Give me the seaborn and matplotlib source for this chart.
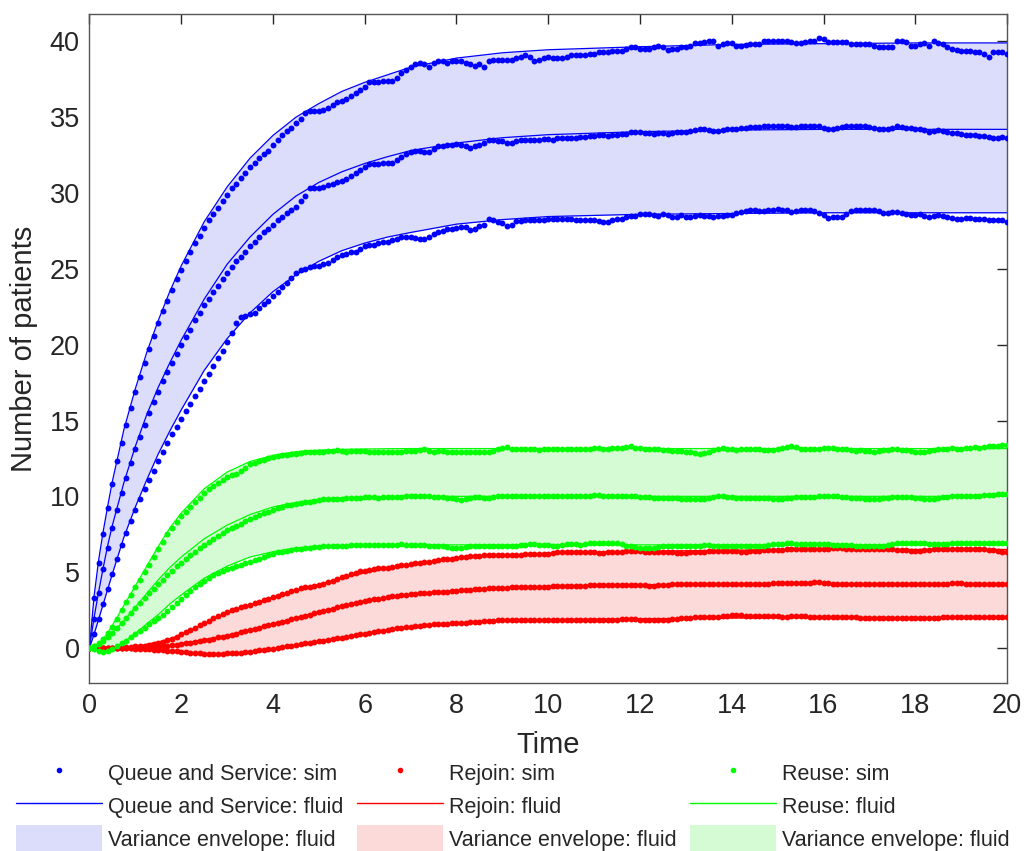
import numpy as np
import pandas as pd
import matplotlib
matplotlib.use("Agg")
import matplotlib.pyplot as plt
from matplotlib.lines import Line2D
from matplotlib.patches import Patch
import seaborn as sns

# ---------------------------------------------------------------- data
# simulation time grid (step 0.1) and fluid-model knot times
t_sim = np.round(np.arange(0, 201) * 0.1, 1)
t_fluid = [0, 0.1, 0.2, 0.3, 0.4, 0.5, 0.75, 1.0, 1.25, 1.5, 1.75, 2.0, 2.5, 3.0, 3.5,
           4.0, 4.5, 5.0, 5.5, 6.0, 6.5, 7.0, 8.0, 9.0, 10.0, 12.0, 14.0, 16.0, 18.0, 20.0]

# Queue and Service -- fluid mean and variance envelope
queue_fluid_mean = [0, 2.0, 3.7, 5.3, 6.8, 8.1, 10.9, 13.3, 15.4, 17.2, 18.8, 20.3, 23.0, 25.3, 27.1,
                    28.6, 29.8, 30.7, 31.4, 31.95, 32.4, 32.8, 33.3, 33.65, 33.85, 34.05, 34.15, 34.2, 34.2, 34.2]
queue_fluid_upper = [0, 3.4, 5.8, 7.7, 9.4, 11.0, 14.4, 17.1, 19.5, 21.6, 23.5, 25.2, 28.1, 30.4, 32.3,
                     33.8, 35.0, 35.9, 36.7, 37.3, 37.8, 38.3, 38.9, 39.25, 39.45, 39.65, 39.8, 39.85, 39.9, 39.9]
queue_fluid_lower = [0, 0.9, 1.9, 2.9, 3.9, 4.9, 7.3, 9.3, 11.1, 12.8, 14.3, 15.7, 18.3, 20.4, 22.1,
                     23.5, 24.6, 25.5, 26.2, 26.7, 27.1, 27.4, 27.95, 28.25, 28.45, 28.6, 28.65, 28.7, 28.7, 28.7]

# Rejoin -- fluid mean and variance envelope
rejoin_fluid_mean = [0, 0, 0, 0, 0, 0, 0, 0.02, 0.05, 0.1, 0.18, 0.3, 0.55, 0.85, 1.2,
                     1.6, 2.0, 2.38, 2.75, 3.05, 3.32, 3.55, 3.8, 3.97, 4.07, 4.17, 4.22, 4.24, 4.25, 4.25]
rejoin_fluid_upper = [0, 0, 0, 0, 0, 0, 0.03, 0.1, 0.25, 0.4, 0.6, 0.9, 1.6, 2.3, 2.85,
                      3.35, 3.8, 4.2, 4.6, 4.95, 5.25, 5.5, 5.9, 6.1, 6.25, 6.38, 6.45, 6.5, 6.5, 6.5]
rejoin_fluid_lower = [0, 0, 0, 0, 0, 0, -0.03, -0.07, -0.12, -0.18, -0.25, -0.32, -0.43, -0.46, -0.3,
                      -0.05, 0.2, 0.45, 0.7, 0.95, 1.2, 1.4, 1.65, 1.8, 1.87, 1.93, 1.97, 2.0, 2.0, 2.0]

# Reuse -- fluid mean and variance envelope
reuse_fluid_mean = [0, 0.1, 0.25, 0.45, 0.7, 1.0, 1.8, 2.7, 3.6, 4.5, 5.3, 6.0, 7.2, 8.1, 8.8,
                    9.3, 9.6, 9.8, 9.9, 9.95, 9.98, 10.0, 10.0, 10.0, 10.0, 10.0, 10.0, 10.0, 10.0, 10.0]
reuse_fluid_upper = [0, 0.1, 0.3, 0.6, 1.0, 1.5, 2.8, 4.1, 5.4, 6.7, 7.9, 8.9, 10.5, 11.6, 12.3,
                     12.7, 12.95, 13.05, 13.1, 13.12, 13.14, 13.15, 13.15, 13.15, 13.15, 13.15, 13.15, 13.15, 13.15, 13.15]
reuse_fluid_lower = [0, -0.1, -0.2, -0.25, -0.2, -0.05, 0.4, 0.95, 1.6, 2.2, 2.9, 3.5, 4.6, 5.4, 6.0,
                     6.35, 6.6, 6.7, 6.75, 6.8, 6.8, 6.8, 6.8, 6.8, 6.8, 6.8, 6.8, 6.8, 6.8, 6.8]

# Queue and Service -- simulated mean and mean +/- one std
queue_sim_upper = [
    0, 3.3, 5.6, 7.5, 9.2, 10.8, 12.3, 13.5, 14.7, 15.8,
    16.9, 17.9, 18.8, 19.7, 20.6, 21.4, 22.2, 22.9, 23.6, 24.3,
    24.9, 25.5, 26.1, 26.7, 27.2, 27.7, 28.2, 28.6, 29.0, 29.5,
    29.9, 30.3, 30.6, 31.0, 31.3, 31.7, 32.0, 32.3, 32.6, 32.8,
    33.2, 33.5, 33.8, 34.1, 34.3, 34.6, 34.9, 35.3, 35.4, 35.4,
    35.4, 35.5, 35.6, 35.8, 36.0, 36.1, 36.2, 36.4, 36.6, 36.8,
    37.0, 37.3, 37.3, 37.3, 37.4, 37.4, 37.4, 37.6, 37.9, 38.1,
    38.3, 38.5, 38.6, 38.5, 38.3, 38.6, 38.7, 38.7, 38.6, 38.7,
    38.7, 38.7, 38.6, 38.5, 38.4, 38.5, 38.3, 38.7, 38.8, 38.8,
    38.8, 38.8, 38.8, 38.9, 39.0, 39.1, 39.0, 38.7, 38.8, 38.9,
    38.95, 38.9, 38.9, 38.9, 38.95, 39.1, 39.1, 39.1, 39.1, 39.2,
    39.2, 39.3, 39.3, 39.3, 39.4, 39.4, 39.4, 39.5, 39.6, 39.6,
    39.5, 39.5, 39.5, 39.6, 39.7, 39.6, 39.45, 39.5, 39.5, 39.6,
    39.6, 39.7, 39.9, 39.9, 39.95, 40.0, 40.0, 39.7, 39.8, 39.9,
    39.9, 39.7, 39.7, 39.75, 39.8, 39.8, 39.85, 40.0, 40.0, 40.0,
    40.0, 40.05, 40.0, 39.95, 39.9, 39.9, 39.95, 40.0, 40.0, 40.2,
    40.15, 39.95, 39.95, 39.95, 39.95, 39.95, 39.8, 39.8, 39.8, 39.8,
    39.8, 39.7, 39.65, 39.65, 39.65, 39.65, 40.0, 40.0, 39.95, 39.7,
    39.7, 39.8, 39.9, 39.7, 40.0, 39.9, 39.8, 39.6, 39.5, 39.45,
    39.4, 39.4, 39.35, 39.3, 39.3, 39.2, 39.0, 39.3, 39.3, 39.3,
    39.2]
queue_sim_mean = [
    0, 1.9, 3.6, 5.2, 6.6, 7.9, 9.1, 10.2, 11.2, 12.2,
    13.1, 13.9, 14.7, 15.5, 16.2, 16.9, 17.6, 18.2, 18.8, 19.4,
    20.0, 20.5, 21.0, 21.6, 22.1, 22.6, 23.0, 23.5, 23.9, 24.3,
    24.7, 25.1, 25.5, 25.8, 26.1, 26.5, 26.8, 27.1, 27.4, 27.6,
    27.9, 28.2, 28.4, 28.7, 28.9, 29.1, 29.5, 29.8, 30.3, 30.3,
    30.3, 30.4, 30.5, 30.6, 30.7, 30.8, 30.9, 31.1, 31.3, 31.5,
    31.7, 31.9, 31.9, 31.9, 31.95, 32.0, 32.0, 32.2, 32.4, 32.6,
    32.7, 32.8, 32.8, 32.7, 32.7, 32.9, 33.1, 33.1, 33.2, 33.2,
    33.25, 33.2, 33.1, 33.0, 33.1, 33.2, 33.3, 33.5, 33.5, 33.45,
    33.45, 33.3, 33.3, 33.4, 33.5, 33.5, 33.5, 33.5, 33.5, 33.55,
    33.55, 33.5, 33.6, 33.6, 33.6, 33.65, 33.6, 33.7, 33.7, 33.75,
    33.75, 33.8, 33.8, 33.75, 33.8, 33.85, 33.9, 33.9, 34.0, 34.0,
    34.0, 33.95, 33.95, 33.9, 33.95, 33.95, 33.9, 33.95, 34.0, 34.0,
    34.05, 34.1, 34.15, 34.2, 34.2, 34.15, 34.1, 34.1, 34.15, 34.2,
    34.2, 34.2, 34.3, 34.3, 34.35, 34.35, 34.35, 34.4, 34.4, 34.4,
    34.45, 34.45, 34.4, 34.35, 34.35, 34.4, 34.4, 34.4, 34.4, 34.4,
    34.3, 34.2, 34.2, 34.3, 34.35, 34.4, 34.4, 34.4, 34.4, 34.4,
    34.35, 34.3, 34.25, 34.2, 34.2, 34.3, 34.4, 34.35, 34.3, 34.3,
    34.2, 34.2, 34.15, 34.05, 34.1, 34.15, 34.1, 34.0, 33.95, 33.95,
    33.9, 33.85, 33.8, 33.8, 33.75, 33.75, 33.7, 33.6, 33.65, 33.7,
    33.6]
queue_sim_lower = [
    0, 0.9, 1.9, 2.9, 3.9, 4.9, 5.9, 6.8, 7.6, 8.4,
    9.1, 9.8, 10.5, 11.1, 11.7, 12.3, 12.9, 13.5, 14.1, 14.6,
    15.1, 15.6, 16.1, 16.6, 17.1, 17.6, 18.1, 18.6, 19.1, 19.6,
    20.2, 20.8, 21.4, 21.8, 21.9, 22.0, 22.1, 22.4, 22.7, 22.9,
    23.2, 23.5, 23.8, 24.1, 24.4, 24.7, 24.9, 25.0, 25.1, 25.2,
    25.2, 25.3, 25.4, 25.6, 25.8, 25.9, 26.0, 26.1, 26.1, 26.3,
    26.5, 26.6, 26.6, 26.7, 26.8, 26.8, 26.9, 27.0, 27.1, 27.1,
    27.1, 27.05, 27.0, 27.0, 27.1, 27.3, 27.4, 27.5, 27.6, 27.65,
    27.7, 27.75, 27.75, 27.55, 27.6, 27.85, 27.9, 28.3, 28.2, 28.1,
    28.0, 27.85, 27.9, 28.15, 28.15, 28.2, 28.2, 28.2, 28.2, 28.25,
    28.3, 28.3, 28.3, 28.3, 28.3, 28.3, 28.25, 28.2, 28.2, 28.2,
    28.2, 28.15, 28.1, 28.1, 28.2, 28.3, 28.3, 28.4, 28.5, 28.5,
    28.6, 28.6, 28.6, 28.55, 28.5, 28.6, 28.55, 28.4, 28.45, 28.55,
    28.4, 28.4, 28.5, 28.55, 28.5, 28.5, 28.45, 28.5, 28.5, 28.55,
    28.55, 28.7, 28.75, 28.8, 28.85, 28.85, 28.8, 28.8, 28.85, 28.9,
    28.95, 28.9, 28.85, 28.75, 28.8, 28.85, 28.9, 28.85, 28.8, 28.7,
    28.55, 28.37, 28.4, 28.4, 28.4, 28.6, 28.8, 28.85, 28.9, 28.9,
    28.9, 28.85, 28.8, 28.7, 28.7, 28.75, 28.75, 28.7, 28.6, 28.55,
    28.55, 28.6, 28.5, 28.45, 28.5, 28.55, 28.5, 28.4, 28.35, 28.3,
    28.3, 28.35, 28.35, 28.3, 28.3, 28.3, 28.25, 28.25, 28.2, 28.2,
    28.1]

# Rejoin -- simulated mean and mean +/- one std
rejoin_sim_upper = [
    0, 0, 0, 0, 0, 0.01, 0.02, 0.03, 0.05, 0.07,
    0.1, 0.12, 0.15, 0.2, 0.25, 0.32, 0.4, 0.5, 0.6, 0.7,
    0.95, 1.05, 1.2, 1.35, 1.5, 1.65, 1.8, 1.95, 2.1, 2.25,
    2.4, 2.5, 2.6, 2.7, 2.8, 2.85, 2.95, 3.05, 3.15, 3.25,
    3.35, 3.45, 3.55, 3.65, 3.75, 3.85, 3.95, 4.0, 4.05, 4.1,
    4.15, 4.25, 4.35, 4.45, 4.55, 4.65, 4.75, 4.85, 4.95, 5.05,
    5.1, 5.15, 5.2, 5.25, 5.25, 5.3, 5.35, 5.4, 5.45, 5.5,
    5.55, 5.58, 5.6, 5.65, 5.7, 5.75, 5.8, 5.85, 5.85, 5.9,
    5.95, 6.0, 6.0, 6.05, 6.05, 6.05, 6.1, 6.1, 6.1, 6.1,
    6.1, 6.1, 6.15, 6.15, 6.15, 6.2, 6.2, 6.2, 6.2, 6.2,
    6.2, 6.25, 6.3, 6.35, 6.35, 6.35, 6.35, 6.35, 6.3, 6.3,
    6.3, 6.25, 6.25, 6.3, 6.3, 6.35, 6.35, 6.4, 6.4, 6.4,
    6.4, 6.35, 6.3, 6.3, 6.3, 6.3, 6.3, 6.3, 6.25, 6.25,
    6.25, 6.3, 6.35, 6.35, 6.35, 6.4, 6.4, 6.4, 6.4, 6.4,
    6.4, 6.4, 6.35, 6.35, 6.4, 6.4, 6.4, 6.45, 6.45, 6.45,
    6.45, 6.45, 6.5, 6.5, 6.5, 6.5, 6.5, 6.5, 6.55, 6.55,
    6.55, 6.55, 6.6, 6.6, 6.6, 6.55, 6.5, 6.5, 6.5, 6.5,
    6.5, 6.55, 6.55, 6.5, 6.5, 6.5, 6.45, 6.45, 6.45, 6.4,
    6.4, 6.4, 6.45, 6.45, 6.5, 6.5, 6.5, 6.5, 6.5, 6.5,
    6.5, 6.55, 6.55, 6.55, 6.5, 6.5, 6.45, 6.45, 6.4, 6.35,
    6.3]
rejoin_sim_mean = [
    0, 0, 0, 0, 0, 0, 0, 0, 0, 0,
    0, 0.01, 0.02, 0.03, 0.05, 0.07, 0.1, 0.13, 0.17, 0.21,
    0.25, 0.3, 0.35, 0.4, 0.45, 0.5, 0.55, 0.6, 0.7, 0.75,
    0.8, 0.87, 0.95, 1.03, 1.1, 1.18, 1.26, 1.34, 1.42, 1.5,
    1.57, 1.65, 1.72, 1.8, 1.9, 1.97, 2.05, 2.12, 2.2, 2.28,
    2.36, 2.44, 2.52, 2.6, 2.68, 2.75, 2.83, 2.9, 2.97, 3.03,
    3.1, 3.15, 3.2, 3.25, 3.3, 3.35, 3.4, 3.45, 3.5, 3.52,
    3.55, 3.57, 3.6, 3.62, 3.65, 3.67, 3.7, 3.72, 3.72, 3.75,
    3.78, 3.8, 3.82, 3.85, 3.87, 3.9, 3.92, 3.93, 3.95, 3.95,
    3.97, 3.98, 4.0, 4.0, 4.02, 4.03, 4.04, 4.05, 4.05, 4.05,
    4.05, 4.07, 4.08, 4.1, 4.1, 4.1, 4.12, 4.12, 4.12, 4.13,
    4.13, 4.14, 4.15, 4.15, 4.15, 4.15, 4.15, 4.17, 4.17, 4.17,
    4.17, 4.15, 4.12, 4.12, 4.15, 4.15, 4.17, 4.2, 4.2, 4.2,
    4.2, 4.22, 4.25, 4.25, 4.25, 4.25, 4.25, 4.22, 4.22, 4.22,
    4.22, 4.25, 4.25, 4.25, 4.25, 4.25, 4.25, 4.25, 4.25, 4.28,
    4.28, 4.28, 4.28, 4.3, 4.3, 4.3, 4.3, 4.3, 4.32, 4.32,
    4.3, 4.28, 4.25, 4.25, 4.25, 4.25, 4.25, 4.25, 4.22, 4.22,
    4.22, 4.22, 4.22, 4.25, 4.25, 4.25, 4.25, 4.25, 4.25, 4.25,
    4.25, 4.25, 4.25, 4.25, 4.25, 4.25, 4.25, 4.25, 4.28, 4.28,
    4.28, 4.25, 4.25, 4.25, 4.22, 4.22, 4.22, 4.2, 4.2, 4.2,
    4.2]
rejoin_sim_lower = [
    0, 0, 0, 0, 0, 0, 0, -0.01, -0.02, -0.03,
    -0.04, -0.05, -0.07, -0.09, -0.11, -0.13, -0.15, -0.17, -0.2, -0.22,
    -0.25, -0.28, -0.3, -0.33, -0.35, -0.37, -0.38, -0.38, -0.38, -0.37,
    -0.36, -0.34, -0.32, -0.3, -0.27, -0.24, -0.2, -0.16, -0.12, -0.08,
    -0.04, 0.0, 0.05, 0.1, 0.15, 0.2, 0.25, 0.3, 0.35, 0.4,
    0.44, 0.49, 0.54, 0.59, 0.64, 0.69, 0.74, 0.79, 0.84, 0.9,
    0.95, 1.0, 1.05, 1.1, 1.15, 1.2, 1.25, 1.3, 1.33, 1.37,
    1.4, 1.43, 1.46, 1.5, 1.52, 1.55, 1.57, 1.58, 1.6, 1.62,
    1.64, 1.66, 1.68, 1.7, 1.72, 1.74, 1.76, 1.78, 1.8, 1.82,
    1.84, 1.85, 1.85, 1.85, 1.85, 1.85, 1.84, 1.84, 1.84, 1.84,
    1.84, 1.84, 1.83, 1.83, 1.83, 1.84, 1.85, 1.86, 1.87, 1.87,
    1.87, 1.86, 1.85, 1.85, 1.86, 1.87, 1.88, 1.9, 1.9, 1.9,
    1.85, 1.85, 1.84, 1.83, 1.83, 1.85, 1.87, 1.9, 1.93, 1.95,
    1.98, 2.0, 2.03, 2.05, 2.05, 2.05, 2.05, 2.07, 2.1, 2.12,
    2.15, 2.17, 2.15, 2.12, 2.1, 2.1, 2.1, 2.1, 2.12, 2.1,
    2.08, 2.06, 2.06, 2.08, 2.1, 2.1, 2.08, 2.06, 2.05, 2.03,
    2.03, 2.03, 2.05, 2.05, 2.05, 2.05, 2.03, 2.02, 2.0, 2.0,
    2.0, 2.0, 1.98, 1.98, 1.97, 1.96, 1.95, 1.95, 1.95, 1.96,
    1.97, 1.98, 2.0, 2.0, 2.0, 2.0, 2.02, 2.02, 2.03, 2.03,
    2.03, 2.03, 2.03, 2.04, 2.04, 2.04, 2.04, 2.03, 2.03, 2.03,
    2.03]

# Reuse -- simulated mean and mean +/- one std
reuse_sim_upper = [
    0, 0.1, 0.3, 0.6, 1.0, 1.4, 1.9, 2.5, 3.0, 3.5,
    4.0, 4.5, 5.0, 5.5, 6.0, 6.5, 7.0, 7.5, 7.9, 8.3,
    8.7, 9.0, 9.3, 9.6, 9.9, 10.2, 10.5, 10.7, 10.9, 11.1,
    11.3, 11.4, 11.5, 11.7, 11.9, 12.1, 12.2, 12.3, 12.4, 12.5,
    12.6, 12.65, 12.7, 12.75, 12.8, 12.8, 12.85, 12.9, 12.9, 12.95,
    12.9, 12.95, 13.0, 13.0, 13.05, 13.0, 12.95, 13.0, 13.0, 13.0,
    13.0, 12.95, 12.95, 12.95, 12.9, 12.9, 12.9, 12.9, 12.95, 13.0,
    13.0, 13.0, 13.05, 13.1, 13.0, 12.95, 13.0, 13.0, 12.95, 12.9,
    12.9, 12.9, 12.9, 12.95, 12.95, 12.9, 12.9, 12.95, 13.0, 13.1,
    13.2, 13.25, 13.15, 13.1, 13.15, 13.15, 13.1, 13.1, 13.05, 13.1,
    13.15, 13.1, 13.1, 13.1, 13.1, 13.15, 13.15, 13.1, 13.1, 13.15,
    13.2, 13.2, 13.15, 13.15, 13.2, 13.2, 13.2, 13.25, 13.3, 13.2,
    13.2, 13.15, 13.15, 13.1, 13.1, 13.05, 13.05, 13.0, 13.0, 13.0,
    12.95, 12.9, 12.85, 12.8, 12.85, 12.95, 13.05, 13.15, 13.2, 13.15,
    13.1, 13.05, 13.1, 13.1, 13.15, 13.15, 13.1, 13.05, 13.05, 13.05,
    13.1, 13.2, 13.25, 13.3, 13.25, 13.15, 13.1, 13.1, 13.15, 13.15,
    13.2, 13.2, 13.2, 13.15, 13.15, 13.1, 13.05, 13.0, 13.05, 13.0,
    13.0, 12.95, 13.0, 13.05, 13.05, 13.1, 13.1, 13.05, 13.05, 13.0,
    12.95, 12.9, 12.9, 13.0, 13.05, 13.1, 13.15, 13.15, 13.2, 13.15,
    13.15, 13.2, 13.2, 13.25, 13.2, 13.25, 13.3, 13.35, 13.35, 13.4,
    13.4]
reuse_sim_mean = [
    0, 0.1, 0.25, 0.45, 0.7, 1.0, 1.3, 1.65, 2.0, 2.3,
    2.65, 2.95, 3.3, 3.6, 3.9, 4.2, 4.5, 4.8, 5.1, 5.4,
    5.6, 5.85, 6.1, 6.35, 6.6, 6.8, 7.0, 7.2, 7.4, 7.55,
    7.75, 7.9, 8.05, 8.2, 8.35, 8.5, 8.65, 8.8, 8.9, 9.0,
    9.1, 9.2, 9.3, 9.4, 9.45, 9.5, 9.55, 9.6, 9.65, 9.7,
    9.75, 9.8, 9.8, 9.85, 9.85, 9.85, 9.9, 9.9, 9.9, 9.9,
    9.95, 9.95, 9.95, 9.9, 9.95, 9.95, 9.95, 9.95, 9.95, 10.0,
    10.0, 10.0, 10.0, 10.05, 10.0, 9.95, 9.95, 9.95, 9.9, 9.9,
    9.8, 9.75, 9.8, 9.9, 9.95, 9.95, 9.9, 9.9, 9.95, 10.0,
    10.05, 10.05, 10.0, 10.0, 10.0, 10.05, 10.05, 10.0, 10.0, 10.0,
    10.0, 10.0, 10.05, 10.05, 10.0, 10.0, 10.0, 10.05, 10.05, 10.05,
    10.1, 10.1, 10.05, 10.05, 10.05, 10.05, 10.0, 10.0, 10.0, 10.0,
    9.95, 9.95, 9.95, 9.9, 9.9, 9.9, 9.9, 9.9, 9.9, 9.85,
    9.85, 9.85, 9.8, 9.8, 9.85, 9.9, 9.95, 10.0, 10.0, 9.95,
    9.95, 9.9, 9.9, 9.9, 9.9, 9.9, 9.9, 9.9, 9.9, 9.85,
    9.85, 9.85, 9.9, 9.9, 9.95, 9.95, 9.95, 9.95, 9.95, 10.0,
    10.0, 10.0, 10.0, 10.0, 9.95, 9.95, 9.9, 9.9, 9.9, 9.85,
    9.85, 9.8, 9.85, 9.9, 9.9, 9.95, 9.95, 9.95, 9.95, 9.95,
    9.9, 9.9, 9.85, 9.85, 9.85, 9.9, 9.95, 9.95, 10.0, 10.0,
    10.0, 10.0, 10.05, 10.05, 10.05, 10.1, 10.1, 10.1, 10.15, 10.15,
    10.17]
reuse_sim_lower = [
    0, -0.1, -0.2, -0.25, -0.2, -0.05, 0.1, 0.3, 0.45, 0.7,
    0.9, 1.1, 1.35, 1.55, 1.75, 1.95, 2.2, 2.45, 2.7, 2.95,
    3.25, 3.5, 3.75, 4.0, 4.2, 4.4, 4.6, 4.8, 4.95, 5.1,
    5.2, 5.3, 5.4, 5.5, 5.6, 5.7, 5.8, 5.9, 6.0, 6.1,
    6.2, 6.3, 6.35, 6.4, 6.45, 6.5, 6.55, 6.6, 6.6, 6.65,
    6.65, 6.7, 6.7, 6.7, 6.75, 6.75, 6.75, 6.8, 6.8, 6.8,
    6.8, 6.8, 6.8, 6.8, 6.8, 6.8, 6.8, 6.8, 6.85, 6.8,
    6.8, 6.8, 6.8, 6.8, 6.75, 6.75, 6.7, 6.7, 6.65, 6.6,
    6.6, 6.6, 6.65, 6.7, 6.75, 6.75, 6.75, 6.7, 6.75, 6.75,
    6.75, 6.75, 6.7, 6.75, 6.8, 6.8, 6.85, 6.85, 6.8, 6.8,
    6.8, 6.75, 6.75, 6.8, 6.85, 6.85, 6.85, 6.8, 6.85, 6.9,
    6.9, 6.9, 6.9, 6.95, 6.95, 6.9, 6.85, 6.75, 6.7, 6.65,
    6.6, 6.6, 6.6, 6.6, 6.65, 6.7, 6.7, 6.7, 6.7, 6.7,
    6.7, 6.75, 6.75, 6.75, 6.8, 6.8, 6.75, 6.75, 6.75, 6.75,
    6.75, 6.75, 6.7, 6.7, 6.7, 6.7, 6.75, 6.75, 6.8, 6.85,
    6.85, 6.85, 6.9, 6.9, 6.85, 6.85, 6.85, 6.85, 6.85, 6.85,
    6.85, 6.85, 6.8, 6.8, 6.8, 6.8, 6.8, 6.75, 6.75, 6.7,
    6.7, 6.7, 6.7, 6.75, 6.8, 6.85, 6.9, 6.9, 6.9, 6.95,
    6.95, 6.9, 6.9, 6.85, 6.85, 6.85, 6.85, 6.85, 6.9, 6.9,
    6.9, 6.9, 6.95, 6.95, 6.95, 6.95, 6.9, 6.9, 6.95, 6.9,
    6.9]

# ---------------------------------------------------------------- style
sns.set_style("white")
plt.rcParams["font.family"] = ["Liberation Sans", "DejaVu Sans"]

BLUE, RED, GREEN = "#0000ff", "#ff0000", "#00ff00"
FILL = {"queue": "#dcdcfb", "rejoin": "#fcdada", "reuse": "#d4fbd4"}

groups = [
    ("queue", "Queue and Service", BLUE,
     (queue_fluid_lower, queue_fluid_mean, queue_fluid_upper),
     (queue_sim_lower, queue_sim_mean, queue_sim_upper)),
    ("rejoin", "Rejoin", RED,
     (rejoin_fluid_lower, rejoin_fluid_mean, rejoin_fluid_upper),
     (rejoin_sim_lower, rejoin_sim_mean, rejoin_sim_upper)),
    ("reuse", "Reuse", GREEN,
     (reuse_fluid_lower, reuse_fluid_mean, reuse_fluid_upper),
     (reuse_sim_lower, reuse_sim_mean, reuse_sim_upper)),
]

fig = plt.figure(figsize=(10.26, 8.51), dpi=100)
ax = fig.add_axes([0.0872, 0.1974, 0.8943, 0.7862])

# variance envelopes
for key, name, col, fluid, sim in groups:
    ax.fill_between(t_fluid, fluid[0], fluid[2], color=FILL[key], lw=0, zorder=1)

# fluid curves
for key, name, col, fluid, sim in groups:
    for curve in fluid:
        df = pd.DataFrame({"t": t_fluid, "v": curve})
        sns.lineplot(data=df, x="t", y="v", ax=ax, color=col, lw=0.9,
                     sort=False, estimator=None, zorder=2, legend=False)

# simulation points
for key, name, col, fluid, sim in groups:
    for series in sim:
        df = pd.DataFrame({"t": t_sim, "v": series})
        sns.scatterplot(data=df, x="t", y="v", ax=ax, color=col, s=18,
                        linewidth=0, zorder=3, legend=False)

ax.set_xlim(0, 20)
ax.set_ylim(-2.31, 41.81)
ax.set_xticks(np.arange(0, 21, 2))
ax.set_yticks(np.arange(0, 41, 5))
ax.set_xlabel("Time", fontsize=21, color="#262626", labelpad=9)
ax.set_ylabel("Number of patients", fontsize=21, color="#262626", labelpad=8)
ax.tick_params(axis="both", which="major", direction="in", length=7, width=1,
               labelsize=19.5, colors="#262626", top=True, right=True,
               labeltop=False, labelright=False, pad=7)
for sp in ax.spines.values():
    sp.set_color("#555555")
    sp.set_linewidth(1.0)

# legend: one column per group
handles, labels = [], []
for key, name, col, fluid, sim in groups:
    handles += [Line2D([], [], ls="none", marker=".", ms=6, color=col),
                Line2D([], [], color=col, lw=1.0),
                Patch(facecolor=FILL[key], edgecolor="none")]
    labels += [f"{name}: sim", f"{name}: fluid", "Variance envelope: fluid"]

fig.legend(handles, labels, loc="upper center", bbox_to_anchor=(0.5, 0.118),
           ncol=3, frameon=False, fontsize=15.5, handlelength=4.0,
           handleheight=1.6, handletextpad=0.3, columnspacing=0.6,
           labelspacing=0.25, borderaxespad=0)

fig.savefig("out.png", dpi=100)
